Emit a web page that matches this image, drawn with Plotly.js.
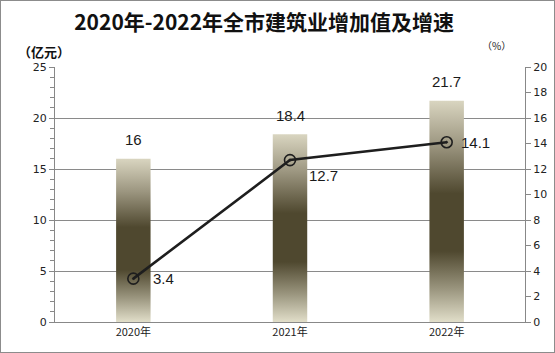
<!DOCTYPE html>
<html>
<head>
<meta charset="utf-8">
<script src="https://cdn.plot.ly/plotly-3.0.1.min.js"></script>
<style>
html,body{margin:0;padding:0;background:#fff;}
#wrap{position:relative;width:555px;height:353px;}
#chart{width:555px;height:353px;}
#frame{position:absolute;left:0;top:0;width:553px;height:351px;border:1px solid #8c8c8c;pointer-events:none;}
</style>
</head>
<body>
<div id="wrap"><div id="chart"></div><div id="frame"></div></div>
<script>
const years = ['2020年', '2021年', '2022年'];
const addedValue = [16, 18.4, 21.7];
const growthRate = [3.4, 12.7, 14.1];
const leftTicks = [0, 5, 10, 15, 20, 25];
const rightTicks = [0, 2, 4, 6, 8, 10, 12, 14, 16, 18, 20];

const numFont = 'DejaVu Sans, Verdana, sans-serif';
const labelFont = 'Liberation Sans, Arial, sans-serif';
const cjkFont = 'Noto Sans CJK SC, sans-serif';

const bars = {
  type: 'bar', x: years, y: addedValue, yaxis: 'y',
  marker: {color: '#6b6448', line: {width: 0}},
  width: 0.22, hoverinfo: 'skip', showlegend: false
};
const line = {
  type: 'scatter', mode: 'lines+markers', x: years, y: growthRate, yaxis: 'y2',
  line: {color: '#1e1e1e', width: 2.6},
  marker: {symbol: 'circle-open-dot', size: 11, color: '#1e1e1e', line: {width: 1.6}},
  cliponaxis: false, showlegend: false
};

const annotations = addedValue.map((v, i) => ({
  x: years[i], y: v, xref: 'x', yref: 'y', text: String(v), showarrow: false,
  yshift: 19, font: {family: labelFont, size: 15, color: '#1a1a1a'}
}));
const lineShifts = [[30, 0], [33, -15], [29, 0]];
growthRate.forEach((v, i) => annotations.push({
  x: years[i], y: v, xref: 'x', yref: 'y2', text: String(v), showarrow: false,
  xshift: lineShifts[i][0], yshift: lineShifts[i][1], font: {family: labelFont, size: 15, color: '#1a1a1a'}
}));
annotations.push({xref: 'paper', yref: 'paper', x: 0.037, y: 1.06, xanchor: 'right', yanchor: 'middle',
  text: '<b>（亿元）</b>', showarrow: false, font: {family: cjkFont, size: 13, color: '#111'}});
annotations.push({xref: 'paper', yref: 'paper', x: 0.94, y: 1.086, xanchor: 'center', yanchor: 'middle',
  text: '（%）', showarrow: false, font: {family: cjkFont, size: 10, color: '#222'}});

const layout = {
  width: 555, height: 353,
  margin: {l: 55, r: 30, t: 67, b: 31},
  paper_bgcolor: '#fff', plot_bgcolor: '#fff',
  title: {text: '<b>2020年-2022年全市建筑业增加值及增速</b>', x: 0.476, xanchor: 'center', y: 0.935, yanchor: 'middle',
    yref: 'container', font: {family: cjkFont, size: 21, color: '#111'}},
  xaxis: {type: 'category', showline: true, linecolor: '#888', linewidth: 1, ticks: '',
    tickfont: {family: cjkFont, size: 11, color: '#222'}, showgrid: false, zeroline: false},
  yaxis: {range: [0, 25], tickvals: leftTicks, ticktext: leftTicks.map(String), showline: true, linecolor: '#888', linewidth: 1,
    ticks: 'outside', ticklen: 5, tickcolor: '#888', showgrid: true, gridcolor: '#8a8a8a', gridwidth: 1, zeroline: false,
    minor: {dtick: 1, ticks: 'outside', ticklen: 4, tickcolor: '#888', showgrid: false},
    tickfont: {family: numFont, size: 11, color: '#222'}},
  yaxis2: {range: [0, 20], overlaying: 'y', side: 'right', tickvals: rightTicks, ticktext: rightTicks.map(String),
    showline: true, linecolor: '#888', linewidth: 1, ticks: 'outside', ticklen: 5, tickcolor: '#888',
    showgrid: false, zeroline: false, tickfont: {family: numFont, size: 11, color: '#222'}},
  bargap: 0.78,
  annotations: annotations
};

Plotly.newPlot('chart', [bars, line], layout, {displayModeBar: false, staticPlot: true}).then(gd => {
  const svg = gd.querySelector('.main-svg');
  const NS = 'http://www.w3.org/2000/svg';
  let defs = svg.querySelector('defs');
  if (!defs) { defs = document.createElementNS(NS, 'defs'); svg.insertBefore(defs, svg.firstChild); }
  const grad = document.createElementNS(NS, 'linearGradient');
  grad.setAttribute('id', 'barGrad');
  grad.setAttribute('x1', '0'); grad.setAttribute('y1', '0');
  grad.setAttribute('x2', '0'); grad.setAttribute('y2', '1');
  [['0', '#d9d5c0'], ['0.2', '#9c9680'], ['0.42', '#4f482f'], ['0.68', '#4f482f'], ['0.85', '#9a957e'], ['1', '#e1dec9']]
    .forEach(([o, c]) => {
      const s = document.createElementNS(NS, 'stop');
      s.setAttribute('offset', o); s.setAttribute('stop-color', c);
      grad.appendChild(s);
    });
  defs.appendChild(grad);
  gd.querySelectorAll('.trace.bars .point path').forEach(p => { p.style.fill = 'url(#barGrad)'; p.style.fillOpacity = 1; });
});
</script>
</body>
</html>
